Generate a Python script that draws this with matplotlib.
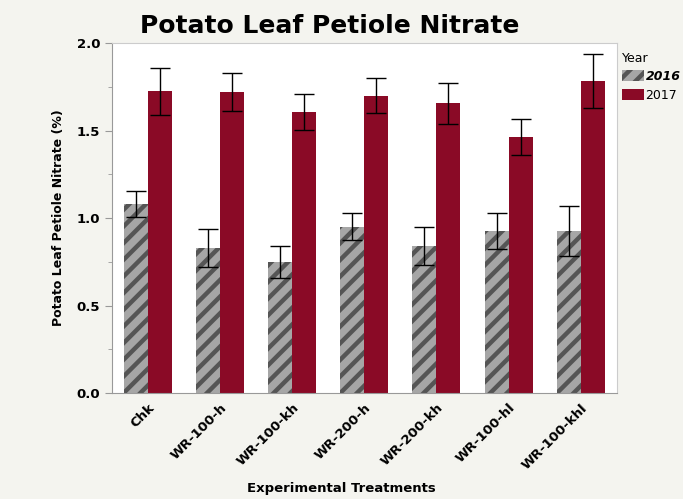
import numpy as np
import matplotlib
matplotlib.use("Agg")
import matplotlib.pyplot as plt

treatments = ["Chk", "WR-100-h", "WR-100-kh", "WR-200-h", "WR-200-kh", "WR-100-hl", "WR-100-khl"]
nitrate_2016 = [1.08, 0.83, 0.75, 0.95, 0.84, 0.925, 0.925]
err_2016 = [0.072, 0.108, 0.092, 0.077, 0.106, 0.103, 0.143]
nitrate_2017 = [1.725, 1.72, 1.605, 1.70, 1.655, 1.465, 1.785]
err_2017 = [0.134, 0.106, 0.103, 0.10, 0.117, 0.103, 0.154]
yticks = [0.0, 0.5, 1.0, 1.5, 2.0]

BG = "#f4f4ef"
plt.rcParams['hatch.linewidth'] = 3.2

fig = plt.figure(figsize=(6.83, 4.99), dpi=100, facecolor=BG)
ax = fig.add_axes([0.164, 0.2124, 0.739, 0.7014])
ax.set_facecolor("white")

x = np.arange(len(treatments))
w = 0.333
b1 = ax.bar(x - w/2, nitrate_2016, w, color="#a6a6a6", edgecolor="#555555",
            hatch="//", linewidth=0, label="2016")
b2 = ax.bar(x + w/2, nitrate_2017, w, color="#8a0a26", linewidth=0, label="2017")
ax.errorbar(x - w/2, nitrate_2016, yerr=err_2016, fmt="none", ecolor="black",
            elinewidth=1, capsize=7.5, capthick=1)
ax.errorbar(x + w/2, nitrate_2017, yerr=err_2017, fmt="none", ecolor="black",
            elinewidth=1, capsize=7.5, capthick=1)

ax.set_xlim(-0.5, len(treatments) - 0.5)
ax.set_ylim(0, 2.0)
ax.set_yticks(yticks)
ax.set_yticklabels(["%.1f" % v for v in yticks], fontweight="bold", fontsize=9.5)
ax.set_yticks([0.25, 0.75, 1.25, 1.75], minor=True)
ax.set_xticks(x)
ax.set_xticklabels(treatments, rotation=45, ha="right", rotation_mode="anchor",
                   fontweight="bold", fontsize=9.5)
ax.tick_params(axis="x", length=0, pad=6)
ax.tick_params(axis="y", which="major", length=5, color="#999999")
ax.tick_params(axis="y", which="minor", length=3, color="#999999")
for s in ["left", "bottom"]:
    ax.spines[s].set_color("#999999")
for s in ["top", "right"]:
    ax.spines[s].set_color("#cccccc")

ax.set_ylabel("Potato Leaf Petiole Nitrate (%)", fontweight="bold", fontsize=9, labelpad=8)
fig.text(0.5, 0.008, "Experimental Treatments", ha="center", va="bottom",
         fontweight="bold", fontsize=9.5)
fig.text(0.483, 0.947, "Potato Leaf Petiole Nitrate", ha="center", va="center",
         fontweight="bold", fontsize=18)

leg = ax.legend(handles=[b1, b2], labels=["2016", "2017"], title="Year",
                loc="upper left", bbox_to_anchor=(1.0, 0.99), frameon=False,
                fontsize=9, title_fontsize=9, handlelength=1.8, handleheight=1.0,
                handletextpad=0.1, borderaxespad=0.2, borderpad=0.2, labelspacing=0.45)
leg._legend_box.align = "left"
leg.get_texts()[0].set_fontweight("bold")
leg.get_texts()[0].set_fontstyle("italic")

fig.savefig("out.png", dpi=100, facecolor=BG)
